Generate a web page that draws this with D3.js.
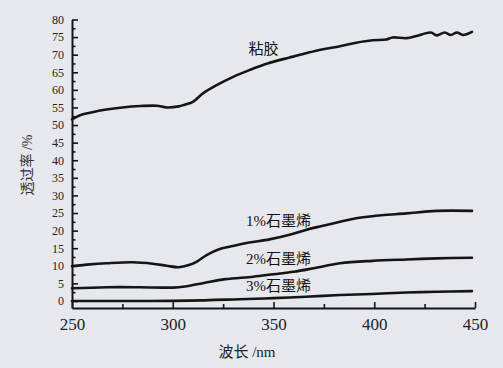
<!DOCTYPE html>
<html><head><meta charset="utf-8">
<script src="https://cdn.jsdelivr.net/npm/d3@7"></script>
<style>html,body{margin:0;padding:0;background:#e7e8ee;}svg{display:block;}</style>
</head><body>
<svg id="c" width="503" height="368"></svg>
<script>
const wavelengths = [250,254,259,267,275,284,292,297,303,306,310,315,322,330,338,347,358,366,374,383,391,399,406,409,416,421,428,431,435,438,441,444,448.5];
const adhesive = [51.6,52.8,53.5,54.4,55.0,55.4,55.5,55.0,55.3,55.8,56.6,59.0,61.4,63.7,65.6,67.5,69.2,70.4,71.5,72.4,73.4,74.1,74.3,74.9,74.7,75.3,76.3,75.5,76.3,75.6,76.3,75.6,76.5];
const wl1 = [250,259,267,280,290,297,303,308,312,317,323,332,338,348,358,366,374,383,391,399,416,431,448.5];
const graphene1 = [9.9,10.4,10.7,11.0,10.6,10.0,9.6,10.2,11.2,13.1,14.7,15.9,16.6,17.5,18.8,20.2,21.3,22.5,23.5,24.1,24.9,25.6,25.6];
const wl2 = [250,267,284,300,306,316,326,340,350,360,370,383,399,416,431,448.5];
const graphene2 = [3.6,3.9,3.9,3.8,4.1,5.2,6.2,6.9,7.6,8.3,9.3,10.7,11.4,11.8,12.1,12.3];
const wl3 = [250,284,308,333,350,366,383,399,416,431,448.5];
const graphene3 = [0,0,0.1,0.5,0.8,1.2,1.7,2.0,2.4,2.6,2.8];
const xTicks = [250,300,350,400,450];
const xMinor = [275,325,375,425];
const yTicks = d3.range(0,81,5);
const yMinor = d3.range(2.5,80,5);
const labels = [
  {text:"粘胶", x:345, y:71.3},
  {text:"1%石墨烯", x:352.5, y:22.4},
  {text:"2%石墨烯", x:352.5, y:11.6},
  {text:"3%石墨烯", x:352.5, y:3.9}
];

const svg = d3.select("#c");
const x = d3.scaleLinear().domain([250,450]).range([72,475]);
const y = d3.scaleLinear().domain([-2,80]).range([308,19.5]);

const ink = "#151515";
const serif = "'Liberation Serif', serif";
// y axis
const gy = svg.append("g").attr("transform","translate(72,0)");
gy.call(d3.axisLeft(y).tickValues(yTicks).tickSizeInner(-6).tickSizeOuter(0).tickPadding(8).tickFormat(d3.format("d")));
svg.append("g").attr("transform","translate(72,0)")
  .call(d3.axisLeft(y).tickValues(yMinor).tickSizeInner(-3.5).tickSizeOuter(0).tickFormat(""))
  .select(".domain").remove();
// x axis
const gx = svg.append("g").attr("transform","translate(0,308)");
gx.call(d3.axisBottom(x).tickValues(xTicks).tickSizeInner(-6).tickSizeOuter(0).tickPadding(10).tickFormat(d3.format("d")));
svg.append("g").attr("transform","translate(0,308)")
  .call(d3.axisBottom(x).tickValues(xMinor).tickSizeInner(-4).tickSizeOuter(0).tickFormat(""))
  .select(".domain").remove();

svg.selectAll(".domain").attr("stroke",ink).attr("stroke-width",2);
svg.selectAll(".tick line").attr("stroke",ink).attr("stroke-width",1.6);
gy.attr("font-family",serif);
gx.attr("font-family",serif);
gy.selectAll("text").attr("font-family",serif).attr("font-size",12).attr("fill","#222");
gx.selectAll("text").attr("font-family",serif).attr("font-size",17).attr("fill","#222");

const line = d3.line().x(d=>x(d[0])).y(d=>y(d[1])).curve(d3.curveCatmullRom);
const series = [
  d3.zip(wavelengths, adhesive),
  d3.zip(wl1, graphene1),
  d3.zip(wl2, graphene2),
  d3.zip(wl3, graphene3)
];
svg.append("g").selectAll("path").data(series).join("path")
  .attr("d", line).attr("fill","none").attr("stroke",ink).attr("stroke-width",2.6)
  .attr("stroke-linejoin","round").attr("stroke-linecap","round");

svg.append("g").selectAll("text").data(labels).join("text")
  .attr("x", d=>x(d.x)).attr("y", d=>y(d.y)).attr("text-anchor","middle")
  .attr("dominant-baseline","middle")
  .attr("font-family","'Liberation Serif','Noto Sans CJK SC'").attr("font-size",15).attr("fill","#111")
  .text(d=>d.text);

svg.append("text").attr("transform","translate(29,165) rotate(-90)")
  .attr("text-anchor","middle").attr("dominant-baseline","middle")
  .attr("font-family","'Liberation Serif','Noto Sans CJK SC'").attr("font-size",14).attr("fill","#333")
  .text("透过率 /%");
svg.append("text").attr("x",247).attr("y",354)
  .attr("text-anchor","middle").attr("dominant-baseline","middle")
  .attr("font-family","'Liberation Serif','Noto Sans CJK SC'").attr("font-size",15).attr("fill","#222")
  .text("波长 /nm");
</script>
</body></html>
